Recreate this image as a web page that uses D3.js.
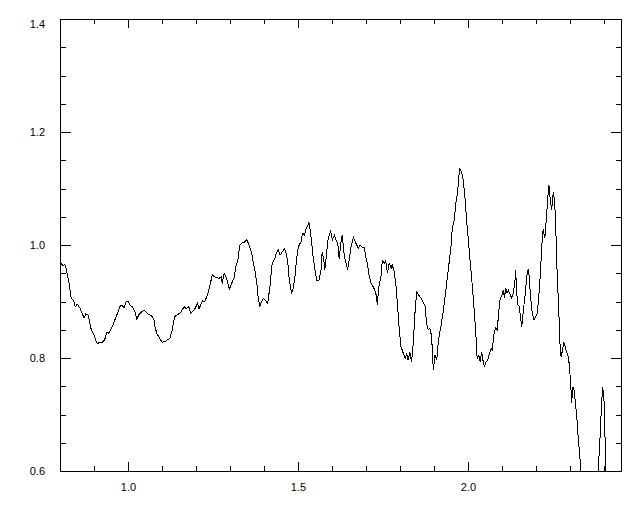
<!DOCTYPE html>
<html>
<head>
<meta charset="utf-8">
<script src="https://cdn.jsdelivr.net/npm/d3@7"></script>
<style>
  body { margin: 0; background: #fff; }
  .tick text { font-family: "Liberation Sans", Arial, sans-serif; font-size: 11px; fill: #000; }
  .tick line { stroke: #000; }
</style>
</head>
<body>
<div id="chart"></div>
<script>
// Wavelength (x) and normalised flux (y)
const wave = [
  0.802, 0.809, 0.814, 0.819, 0.824, 0.829, 0.833, 0.840, 0.845, 0.851,
  0.858, 0.865, 0.871, 0.876, 0.882, 0.887, 0.892, 0.899, 0.905, 0.910,
  0.917, 0.924, 0.931, 0.938, 0.943, 0.949, 0.956, 0.963, 0.969, 0.976,
  0.982, 0.988, 0.995, 1.000, 1.005, 1.012, 1.020, 1.026, 1.032, 1.039,
  1.047, 1.054, 1.061, 1.069, 1.076, 1.080, 1.086, 1.093, 1.100, 1.108,
  1.116, 1.123, 1.129, 1.135, 1.139, 1.147, 1.155, 1.162, 1.167, 1.171,
  1.179, 1.184, 1.191, 1.198, 1.204, 1.209, 1.214, 1.219, 1.226, 1.234,
  1.241, 1.248, 1.254, 1.261, 1.268, 1.274, 1.277, 1.283, 1.290, 1.298,
  1.305, 1.313, 1.317, 1.323, 1.329, 1.334, 1.342, 1.349, 1.354, 1.359,
  1.364, 1.369, 1.374, 1.379, 1.383, 1.388, 1.393, 1.398, 1.405, 1.411,
  1.418, 1.424, 1.432, 1.437, 1.442, 1.447, 1.454, 1.460, 1.464, 1.470,
  1.474, 1.481, 1.486, 1.491, 1.496, 1.501, 1.509, 1.513, 1.519, 1.524,
  1.529, 1.532, 1.535, 1.540, 1.545, 1.550, 1.555, 1.562, 1.568, 1.571,
  1.576, 1.579, 1.584, 1.589, 1.596, 1.601, 1.607, 1.611, 1.617, 1.621,
  1.626, 1.630, 1.636, 1.641, 1.646, 1.651, 1.656, 1.663, 1.668, 1.673,
  1.677, 1.682, 1.689, 1.695, 1.699, 1.704, 1.709, 1.715, 1.721, 1.726,
  1.731, 1.733, 1.738, 1.744, 1.748, 1.754, 1.758, 1.763, 1.768, 1.774,
  1.777, 1.783, 1.788, 1.793, 1.798, 1.803, 1.810, 1.815, 1.820, 1.824,
  1.829, 1.834, 1.839, 1.844, 1.849, 1.854, 1.862, 1.869, 1.874, 1.878,
  1.883, 1.888, 1.893, 1.898, 1.903, 1.908, 1.913, 1.921, 1.927, 1.934,
  1.942, 1.950, 1.954, 1.960, 1.964, 1.969, 1.974, 1.976, 1.981, 1.986,
  1.991, 1.996, 2.001, 2.006, 2.013, 2.019, 2.023, 2.027, 2.032, 2.036,
  2.040, 2.044, 2.048, 2.053, 2.058, 2.062, 2.068, 2.071, 2.077, 2.081,
  2.086, 2.091, 2.095, 2.099, 2.104, 2.107, 2.111, 2.115, 2.119, 2.124,
  2.128, 2.133, 2.138, 2.140, 2.143, 2.146, 2.151, 2.155, 2.158, 2.163,
  2.168, 2.173, 2.177, 2.180, 2.184, 2.189, 2.194, 2.199, 2.204, 2.209,
  2.213, 2.217, 2.221, 2.226, 2.231, 2.234, 2.238, 2.242, 2.246, 2.251,
  2.255, 2.259, 2.262, 2.267, 2.271, 2.274, 2.278, 2.282, 2.286, 2.290,
  2.295, 2.298, 2.302, 2.305, 2.308, 2.312, 2.316, 2.320, 2.324, 2.329,
  2.334, 2.344, 2.359, 2.374, 2.383, 2.388, 2.393, 2.396, 2.400, 2.403,
  2.406, 2.409, 2.424, 2.441, 2.453
];
const flux = [
  0.968, 0.963, 0.966, 0.956, 0.941, 0.923, 0.906, 0.901, 0.891, 0.895,
  0.889, 0.879, 0.871, 0.878, 0.877, 0.864, 0.850, 0.842, 0.832, 0.825,
  0.828, 0.828, 0.832, 0.845, 0.844, 0.850, 0.858, 0.870, 0.879, 0.891,
  0.894, 0.889, 0.900, 0.901, 0.894, 0.891, 0.883, 0.869, 0.877, 0.881,
  0.885, 0.881, 0.877, 0.875, 0.869, 0.853, 0.842, 0.835, 0.828, 0.829,
  0.832, 0.835, 0.847, 0.867, 0.875, 0.877, 0.881, 0.888, 0.891, 0.887,
  0.891, 0.879, 0.883, 0.888, 0.897, 0.887, 0.894, 0.901, 0.900, 0.912,
  0.929, 0.947, 0.944, 0.942, 0.941, 0.944, 0.932, 0.950, 0.941, 0.922,
  0.932, 0.944, 0.962, 0.973, 1.000, 1.003, 1.005, 1.009, 1.003, 0.994,
  0.985, 0.968, 0.953, 0.932, 0.906, 0.891, 0.900, 0.906, 0.901, 0.897,
  0.929, 0.968, 0.976, 0.987, 0.991, 0.982, 0.988, 0.993, 0.988, 0.970,
  0.941, 0.915, 0.923, 0.944, 0.976, 0.997, 1.006, 1.021, 1.018, 1.030,
  1.034, 1.041, 1.030, 1.006, 0.976, 0.956, 0.938, 0.938, 0.956, 0.988,
  0.973, 0.956, 0.985, 1.012, 1.024, 1.009, 1.018, 1.010, 1.003, 0.976,
  1.003, 1.018, 0.982, 0.968, 0.956, 0.976, 0.996, 1.014, 1.006, 1.000,
  0.994, 1.000, 0.996, 0.996, 0.979, 0.968, 0.947, 0.932, 0.926, 0.920,
  0.909, 0.894, 0.926, 0.944, 0.973, 0.968, 0.973, 0.950, 0.968, 0.959,
  0.965, 0.953, 0.929, 0.891, 0.850, 0.820, 0.808, 0.799, 0.808, 0.796,
  0.811, 0.793, 0.826, 0.879, 0.917, 0.912, 0.906, 0.897, 0.891, 0.861,
  0.850, 0.853, 0.838, 0.779, 0.805, 0.796, 0.832, 0.858, 0.882, 0.915,
  0.956, 0.997, 1.032, 1.044, 1.074, 1.091, 1.127, 1.134, 1.130, 1.115,
  1.086, 1.044, 1.009, 0.973, 0.926, 0.879, 0.844, 0.799, 0.805, 0.793,
  0.811, 0.796, 0.785, 0.793, 0.796, 0.805, 0.817, 0.814, 0.844, 0.853,
  0.850, 0.885, 0.906, 0.909, 0.920, 0.906, 0.923, 0.915, 0.920, 0.912,
  0.906, 0.915, 0.935, 0.956, 0.920, 0.894, 0.891, 0.870, 0.855, 0.885,
  0.912, 0.944, 0.957, 0.944, 0.909, 0.879, 0.867, 0.873, 0.879, 0.915,
  0.950, 0.997, 1.028, 1.012, 1.050, 1.080, 1.106, 1.080, 1.062, 1.094,
  1.077, 1.015, 0.956, 0.885, 0.820, 0.802, 0.814, 0.827, 0.820, 0.811,
  0.802, 0.788, 0.755, 0.720, 0.749, 0.743, 0.720, 0.696, 0.661, 0.625,
  0.590, 0.550, 0.530, 0.560, 0.599, 0.655, 0.720, 0.749, 0.726, 0.661,
  0.599, 0.570, 0.520, 0.500, 0.500
];

const xMajor = [1.0, 1.5, 2.0];
const xMinor = [0.9, 1.1, 1.2, 1.3, 1.4, 1.6, 1.7, 1.8, 1.9, 2.1, 2.2, 2.3, 2.4];
const yMajor = [0.6, 0.8, 1.0, 1.2, 1.4];
const yMinor = [0.65, 0.7, 0.75, 0.85, 0.9, 0.95, 1.05, 1.1, 1.15, 1.25, 1.3, 1.35];

const W = 640, H = 512;
const margin = { left: 60, right: 622, top: 19, bottom: 471 };

const svg = d3.select("#chart").append("svg")
    .attr("width", W)
    .attr("height", H)
    .style("display", "block");

const x = d3.scaleLinear().domain([0.8, 2.453]).range([margin.left, margin.right]);
const y = d3.scaleLinear().domain([0.6, 1.4]).range([margin.bottom, margin.top]);

// clip so the line stops at the frame
svg.append("clipPath").attr("id", "plot-clip")
  .append("rect")
    .attr("x", margin.left).attr("y", margin.top)
    .attr("width", margin.right - margin.left)
    .attr("height", margin.bottom - margin.top);

// axes: ticks point inwards on all four sides
function addAxis(axis, tx, ty, labels) {
  const g = svg.append("g")
      .attr("transform", `translate(${tx},${ty})`)
      .attr("shape-rendering", "crispEdges")
      .call(axis);
  g.select(".domain").remove();
  if (!labels) g.selectAll("text").remove();
  return g;
}

addAxis(d3.axisBottom(x).tickValues(xMajor).tickSize(-9).tickPadding(12).tickFormat(d3.format(".1f")), 0, margin.bottom, true);
addAxis(d3.axisBottom(x).tickValues(xMinor).tickSize(-5), 0, margin.bottom, false);
addAxis(d3.axisTop(x).tickValues(xMajor).tickSize(-9), 0, margin.top, false);
addAxis(d3.axisTop(x).tickValues(xMinor).tickSize(-5), 0, margin.top, false);

addAxis(d3.axisLeft(y).tickValues(yMajor).tickSize(-11).tickPadding(15).tickFormat(d3.format(".1f")), margin.left, 0, true)
  .selectAll(".tick text")
  .attr("dy", d => d === 1.4 ? "0.75em" : "0.32em");
addAxis(d3.axisLeft(y).tickValues(yMinor).tickSize(-6), margin.left, 0, false);
addAxis(d3.axisRight(y).tickValues(yMajor).tickSize(-11), margin.right, 0, false);
addAxis(d3.axisRight(y).tickValues(yMinor).tickSize(-6), margin.right, 0, false);

// frame
svg.append("rect")
    .attr("x", margin.left + 0.5).attr("y", margin.top + 0.5)
    .attr("width", margin.right - margin.left - 1)
    .attr("height", margin.bottom - margin.top)
    .attr("fill", "none")
    .attr("stroke", "#000")
    .attr("shape-rendering", "crispEdges");

// spectrum
const n = Math.min(wave.length, flux.length);
const line = d3.line()
    .x(i => x(wave[i]))
    .y(i => y(flux[i]));

svg.append("path")
    .datum(d3.range(n))
    .attr("clip-path", "url(#plot-clip)")
    .attr("fill", "none")
    .attr("stroke", "#000")
    .attr("stroke-width", 1)
    .attr("shape-rendering", "crispEdges")
    .attr("d", line);
</script>
</body>
</html>
